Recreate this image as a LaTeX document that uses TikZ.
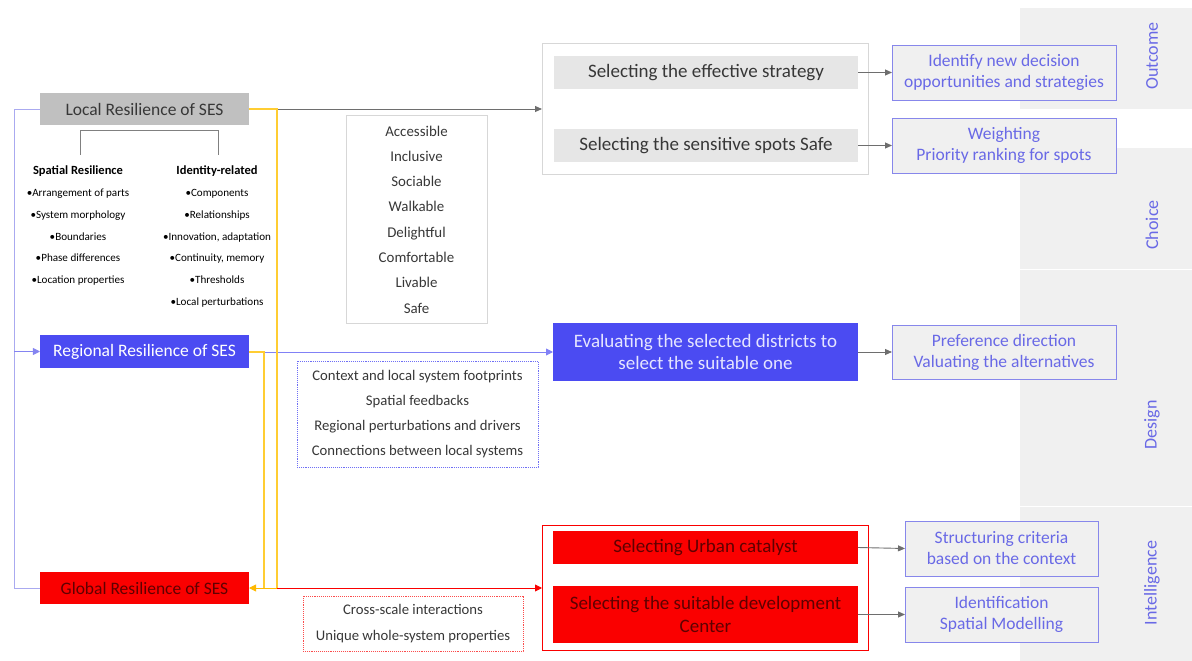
\documentclass[tikz,border=0pt]{standalone}
\usepackage{fontspec}
\setmainfont{Carlito}
\usetikzlibrary{arrows.meta}
\definecolor{bluefill}{RGB}{75,75,242}
\definecolor{redfill}{RGB}{250,0,0}
\definecolor{darkred}{RGB}{95,0,0}
\definecolor{purptext}{RGB}{105,105,230}
\definecolor{purpline}{RGB}{135,135,235}
\definecolor{bandgray}{RGB}{240,240,240}
\definecolor{lavline}{RGB}{170,170,240}
\definecolor{yel}{RGB}{255,205,50}
\definecolor{orng}{RGB}{255,185,0}
\definecolor{boxgray}{RGB}{192,192,192}
\definecolor{lightbox}{RGB}{230,230,230}
\definecolor{outergray}{RGB}{215,215,215}
\definecolor{arrgray}{RGB}{110,110,110}
\definecolor{txtgray}{RGB}{55,55,55}
\begin{document}
\begin{tikzpicture}[x=1bp,y=-1bp,
  base/.style={inner sep=0pt,outer sep=0pt,align=center},
  leftbox/.style={base,minimum width=209bp,minimum height=32bp,font=\fontsize{17.5bp}{20bp}\selectfont},
  midbox/.style={base,minimum width=304bp,font=\fontsize{19bp}{22.5bp}\selectfont},
  rightbox/.style={base,fill=bandgray,draw=purpline,line width=0.9bp,text=purptext,minimum height=55bp,font=\fontsize{17.5bp}{21bp}\selectfont},
  bandlbl/.style={base,rotate=90,text=purptext,font=\fontsize{18bp}{20bp}\selectfont},
  listtxt/.style={base,text=txtgray,font=\fontsize{14.9bp}{25.3bp}\selectfont},
  smalltxt/.style={base,text=black,font=\fontsize{11.1bp}{21.8bp}\selectfont},
  arr/.style={draw=arrgray,line width=0.9bp,-{Triangle[length=7bp,width=6bp]}},
  thin/.style={line width=0.9bp}
]
\useasboundingbox (0,0) rectangle (1192,661);
% phase bands
\fill[bandgray] (1020,8) rectangle (1192,109);
\fill[bandgray] (1020,148) rectangle (1192,269);
\fill[bandgray] (1020,270) rectangle (1192,506);
\fill[bandgray] (1020,507) rectangle (1192,661);
\node[bandlbl] (outcome) at (1152,56) {Outcome};
\node[bandlbl] (choice) at (1152,225) {Choice};
\node[bandlbl] (design) at (1152,425) {Design};
\node[bandlbl] (intel) at (1152,583) {Intelligence};

% left column
\node[leftbox,fill=boxgray,text=txtgray] (local) at (144.5,109) {Local Resilience of SES};
\node[leftbox,fill=bluefill,text=white,minimum height=33bp] (regional) at (144.5,351.5) {Regional Resilience of SES};
\node[leftbox,fill=redfill,text=darkred] (global) at (144.5,588) {Global Resilience of SES};

\draw[thin,draw=gray] (80,155) coordinate (bl) -- (80,130) -- (218,130) -- (218,155) coordinate (br);
\node[smalltxt,anchor=north] (spatial) at (78,166) {{\fontsize{12.5bp}{21.8bp}\selectfont\bfseries Spatial Resilience}\\
•Arrangement of parts\\ •System morphology\\ •Boundaries\\ •Phase differences\\ •Location properties};
\node[smalltxt,anchor=north] (identity) at (217,166) {{\fontsize{12.5bp}{21.8bp}\selectfont\bfseries Identity-related}\\
•Components\\ •Relationships\\ •Innovation, adaptation\\ •Continuity, memory\\ •Thresholds\\ •Local perturbations};

% word list
\node[base,draw=outergray,thin,minimum width=141bp,minimum height=208bp] (words) at (416.5,219) {};
\node[listtxt] (wordtxt) at (416.5,219.5) {Accessible\\ Inclusive\\ Sociable\\ Walkable\\ Delightful\\ Comfortable\\ Livable\\ Safe};

% regional dotted list
\node[base,draw=bluefill!80,densely dotted,thin,minimum width=241bp,minimum height=106bp,
  font=\fontsize{14.7bp}{25bp}\selectfont,text=txtgray] (reglist) at (417.5,414)
  {Context and local system footprints\\ Spatial feedbacks\\ Regional perturbations and drivers\\ Connections between local systems};

% global dotted list
\node[base,draw=redfill!70,densely dotted,thin,minimum width=220bp,minimum height=55bp,
  font=\fontsize{14.7bp}{25.5bp}\selectfont,text=txtgray] (globlist) at (413,623.5)
  {Cross-scale interactions\\ Unique whole-system properties};

% middle column
\node[base,draw=outergray,thin,minimum width=326bp,minimum height=131bp] (topouter) at (705,108.5) {};
\node[midbox,fill=lightbox,text=txtgray,minimum height=33bp] (eff) at (706,72.5) {Selecting the effective strategy};
\node[midbox,fill=lightbox,text=txtgray,minimum height=33bp] (sens) at (706,145.5) {Selecting the sensitive spots Safe};
\node[midbox,fill=bluefill,text=white!90!blue,minimum width=305bp,minimum height=58bp] (eval) at (705.5,352)
  {Evaluating the selected districts to\\ select the suitable one};
\node[base,draw=redfill,thin,minimum width=326bp,minimum height=125bp] (redouter) at (705,587.5) {};
\node[midbox,fill=redfill,text=darkred,minimum width=305bp,minimum height=33bp] (urban) at (705.5,547.5) {Selecting Urban catalyst};
\node[midbox,fill=redfill,text=darkred,minimum width=305bp,minimum height=57bp,font=\fontsize{19bp}{23bp}\selectfont] (dev) at (705.5,614.5)
  {Selecting the suitable development\\ Center};

% right column
\node[rightbox,minimum width=224bp] (identify) at (1004,72.5) {Identify new decision\\ opportunities and strategies};
\node[rightbox,minimum width=224bp] (weight) at (1004,145.5) {Weighting\\ Priority ranking for spots};
\node[rightbox,minimum width=224bp,minimum height=54bp] (pref) at (1004,352) {Preference direction\\ Valuating the alternatives};
\node[rightbox,minimum width=193bp] (struct) at (1001.5,548.5) {Structuring criteria\\ based on the context};
\node[rightbox,minimum width=193bp] (ident) at (1001.5,614.5) {Identification\\ Spatial Modelling};

% connectors
\coordinate (lt) at (14,109);
\coordinate (lb) at (14,588);
\coordinate (y1t) at (277,109);
\coordinate (y1b) at (277,588);
\coordinate (y2t) at (264,352);
\coordinate (y2b) at (264,588);
\draw[thin,draw=lavline] (local.west) -- (lt) -- (lb) -- (global.west);
\draw[thin,draw=lavline!60!bluefill,-{Triangle[length=7bp,width=7bp]}] (lt |- regional.west) -- (regional.west);
\draw[arr] (y1t) -- (topouter.west |- y1t);
\draw[thin,-{Triangle[length=7bp,width=7bp]},draw=bluefill!70] (y2t) -- (eval.west |- y2t);
\draw[thin,draw=redfill,-{Triangle[length=7bp,width=7bp]}] (y1b) -- (redouter.west |- y1b);
\draw[line width=1.1bp,draw=yel] (local.east) -- (y1t) -- (y1b);
\draw[line width=1.1bp,draw=yel] (regional.east |- y2t) -- (y2t) -- (y2b);
\draw[thin,draw=orng,-{Triangle[length=7bp,width=7bp]}] (y1b) -- (global.east);
\draw[arr] (eff.east) -- (identify.west);
\draw[arr] (sens.east) -- (weight.west);
\draw[arr] (eval.east) -- (pref.west);
\draw[arr] (urban.east) -- (struct.west);
\draw[arr] (dev.east) -- (ident.west);
\end{tikzpicture}
\end{document}
